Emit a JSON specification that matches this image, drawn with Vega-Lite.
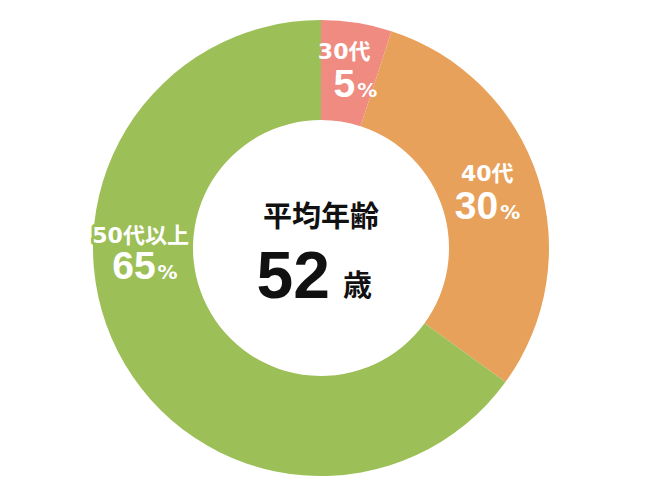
{
  "$schema": "https://vega.github.io/schema/vega-lite/v6.json",
  "description": "Donut chart of age groups with average age in the centre.",
  "width": 642,
  "height": 496,
  "padding": 0,
  "autosize": "none",
  "background": "white",
  "view": {"stroke": null},
  "data": {
    "values": [
      {"category": "30代", "pct": 5},
      {"category": "40代", "pct": 30},
      {"category": "50代以上", "pct": 65}
    ]
  },
  "layer": [
    {
      "mark": {"type": "arc", "outerRadius": 228, "innerRadius": 128, "strokeWidth": 0},
      "encoding": {
        "theta": {"field": "pct", "type": "quantitative", "stack": true},
        "color": {
          "field": "category",
          "type": "nominal",
          "scale": {"domain": ["30代", "40代", "50代以上"], "range": ["#EF8B80", "#E8A15B", "#9CBF57"]},
          "legend": null
        }
      }
    },
    {
      "mark": {"type": "text", "radius": 180, "dx": -5, "dy": -18, "align": "center", "baseline": "middle", "font": "DejaVu Sans, Noto Sans CJK JP", "fontSize": 22, "fontWeight": "bold", "fill": "white"},
      "encoding": {
        "theta": {"field": "pct", "type": "quantitative", "stack": true},
        "detail": {"field": "category", "type": "nominal"},
        "text": {"condition": {"test": "datum.category !== '50代以上'", "field": "category"}, "value": ""}
      }
    },
    {
      "mark": {"type": "text", "radius": 180, "dx": 6, "dy": 27, "align": "right", "baseline": "alphabetic", "font": "Liberation Sans, Arial, sans-serif", "fontSize": 39, "fontWeight": "bold", "fill": "white"},
      "encoding": {
        "theta": {"field": "pct", "type": "quantitative", "stack": true},
        "detail": {"field": "category", "type": "nominal"},
        "text": {"condition": {"test": "datum.category !== '50代以上'", "field": "pct", "type": "quantitative"}, "value": ""}
      }
    },
    {
      "mark": {"type": "text", "radius": 180, "dx": 8, "dy": 27, "align": "left", "baseline": "alphabetic", "font": "DejaVu Sans, sans-serif", "fontSize": 20, "fontWeight": "bold", "fill": "white"},
      "encoding": {
        "theta": {"field": "pct", "type": "quantitative", "stack": true},
        "detail": {"field": "category", "type": "nominal"},
        "text": {"condition": {"test": "datum.category !== '50代以上'", "value": "%"}, "value": ""}
      }
    },
    {
      "mark": {"type": "text", "radius": 180, "dx": -20, "dy": -94, "align": "center", "baseline": "middle", "font": "DejaVu Sans, Noto Sans CJK JP", "fontSize": 22, "fontWeight": "bold", "fill": "#9CBF57", "stroke": "#9CBF57", "strokeWidth": 6, "strokeJoin": "round"},
      "encoding": {
        "theta": {"field": "pct", "type": "quantitative", "stack": true},
        "detail": {"field": "category", "type": "nominal"},
        "text": {"condition": {"test": "datum.category === '50代以上'", "field": "category"}, "value": ""}
      }
    },
    {
      "mark": {"type": "text", "radius": 180, "dx": -20, "dy": -94, "align": "center", "baseline": "middle", "font": "DejaVu Sans, Noto Sans CJK JP", "fontSize": 22, "fontWeight": "bold", "fill": "white"},
      "encoding": {
        "theta": {"field": "pct", "type": "quantitative", "stack": true},
        "detail": {"field": "category", "type": "nominal"},
        "text": {"condition": {"test": "datum.category === '50代以上'", "field": "category"}, "value": ""}
      }
    },
    {
      "mark": {"type": "text", "radius": 180, "dx": -5, "dy": -51, "align": "right", "baseline": "alphabetic", "font": "Liberation Sans, Arial, sans-serif", "fontSize": 39, "fontWeight": "bold", "fill": "white"},
      "encoding": {
        "theta": {"field": "pct", "type": "quantitative", "stack": true},
        "detail": {"field": "category", "type": "nominal"},
        "text": {"condition": {"test": "datum.category === '50代以上'", "field": "pct", "type": "quantitative"}, "value": ""}
      }
    },
    {
      "mark": {"type": "text", "radius": 180, "dx": -3, "dy": -51, "align": "left", "baseline": "alphabetic", "font": "DejaVu Sans, sans-serif", "fontSize": 20, "fontWeight": "bold", "fill": "white"},
      "encoding": {
        "theta": {"field": "pct", "type": "quantitative", "stack": true},
        "detail": {"field": "category", "type": "nominal"},
        "text": {"condition": {"test": "datum.category === '50代以上'", "value": "%"}, "value": ""}
      }
    },
    {
      "data": {"values": [{"label": "平均年齢", "age": 52, "unit": "歳"}]},
      "layer": [
        {
          "mark": {"type": "text", "dy": -30, "align": "center", "baseline": "middle", "font": "Noto Sans CJK JP", "fontSize": 29, "fontWeight": "bold", "fill": "#111111"},
          "encoding": {"text": {"field": "label", "type": "nominal"}}
        },
        {
          "mark": {"type": "text", "dx": 9, "dy": 50, "align": "right", "baseline": "alphabetic", "font": "Liberation Sans, Arial, sans-serif", "fontSize": 66, "fontWeight": "bold", "fill": "#111111"},
          "encoding": {"text": {"field": "age", "type": "quantitative"}}
        },
        {
          "mark": {"type": "text", "dx": 22, "dy": 48, "align": "left", "baseline": "alphabetic", "font": "Noto Sans CJK JP", "fontSize": 29, "fontWeight": "bold", "fill": "#111111"},
          "encoding": {"text": {"field": "unit", "type": "nominal"}}
        }
      ]
    }
  ]
}
